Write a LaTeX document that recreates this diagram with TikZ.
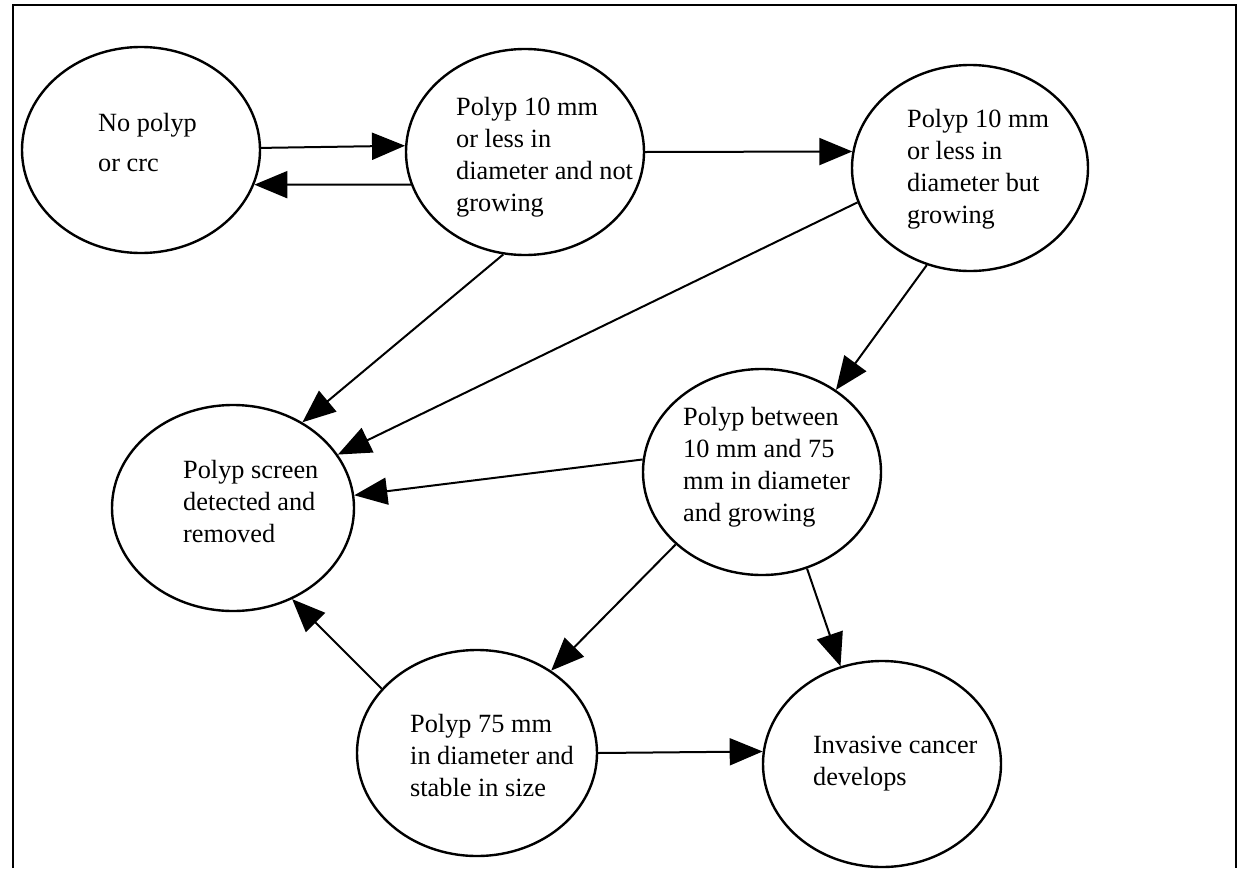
\documentclass[tikz,border=0pt]{standalone}
\usepackage{fontspec}
\setmainfont{Liberation Serif}
\usetikzlibrary{arrows.meta,shapes.geometric}
\begin{document}
\begin{tikzpicture}[x=1pt,y=-1pt,
  state/.style={draw, ellipse, line width=2.4pt, inner sep=0pt,
                minimum width=#1, minimum height=206pt},
  txt/.style={align=left, inner sep=0pt, anchor=base west,
              font=\fontsize{26.3}{32}\selectfont},
  conn/.style={draw, line width=2pt,
               -{Triangle[length=33pt,width=27pt]}}
]
\useasboundingbox (0,0) rectangle (1237,868);
% frame around the chart
\draw[line width=2pt] (13,868) -- (13,5) -- (1236,5) -- (1236,868);

% states
\node[state=238pt] (e1) at (141,150) {};
\node[state=238pt] (e2) at (525,152) {};
\node[state=236pt] (e3) at (970,168) {};
\node[state=242pt] (e4) at (233,508) {};
\node[state=238pt] (e5) at (762,472) {};
\node[state=240pt] (e6) at (477,753) {};
\node[state=238pt] (e7) at (882,764) {};

% state descriptions (anchored at the baseline of the last line)
\node[txt, font=\fontsize{26.3}{40}\selectfont] (t1) at (98,171) {No polyp\\or crc};
\node[txt] (t2) at (456,211) {Polyp 10 mm\\or less in\\diameter and not\\growing};
\node[txt] (t3) at (907,223) {Polyp 10 mm\\or less in\\diameter but\\growing};
\node[txt] (t4) at (183,542) {Polyp screen\\detected and\\removed};
\node[txt] (t5) at (683,521) {Polyp between\\10 mm and 75\\mm in diameter\\and growing};
\node[txt] (t6) at (410,796) {Polyp 75 mm\\in diameter and\\stable in size};
\node[txt] (t7) at (813,785) {Invasive cancer\\develops};

% transitions
\draw[conn] (e1.1.4) -- (e2.177.6);
\draw[conn] (e2.196.9) -- (e1.-17.9);
\draw[conn] (e2.0) -- (e3.172.2);
\draw[conn] (e2.258.7) -- (e4.51.3);
\draw[conn] (e3.197.2) -- (e4.27.9);
\draw[conn] (e3.-114.4) -- (e5.48.3);
\draw[conn] (e5.174.7) -- (e4.6.2);
\draw[conn] (e5.-140) -- (e6.48.7);
\draw[conn] (e5.-65.6) -- (e7.113.1);
\draw[conn] (e6.146.4) -- (e4.-57.4);
\draw[conn] (e6.0) -- (e7.174.7);
\end{tikzpicture}
\end{document}
